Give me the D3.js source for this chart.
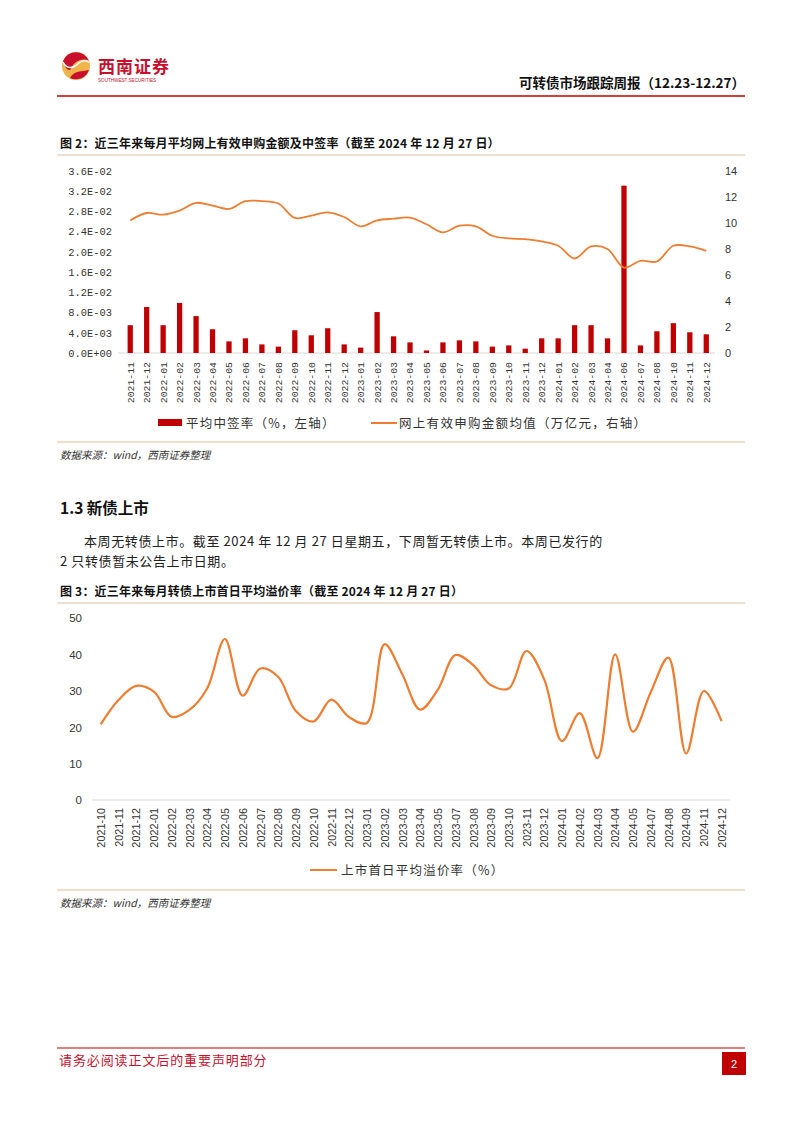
<!DOCTYPE html>
<html><head><meta charset="utf-8">
<script src="https://cdn.jsdelivr.net/npm/d3@7"></script>
<style>
html,body{margin:0;padding:0;background:#fff;}
svg{display:block;}
.cjk{font-family:"Noto Sans CJK SC","Noto Sans",sans-serif;}
</style></head>
<body>
<svg id="page" width="802" height="1133"></svg>
<script>
// ---------- DATA ----------
const months1 = ["2021-11","2021-12","2022-01","2022-02","2022-03","2022-04","2022-05","2022-06","2022-07","2022-08","2022-09","2022-10","2022-11","2022-12","2023-01","2023-02","2023-03","2023-04","2023-05","2023-06","2023-07","2023-08","2023-09","2023-10","2023-11","2023-12","2024-01","2024-02","2024-03","2024-04","2024-06","2024-07","2024-08","2024-10","2024-11","2024-12"];
const winRate = [5.5e-3,9.1e-3,5.5e-3,9.9e-3,7.3e-3,4.7e-3,2.3e-3,2.9e-3,1.7e-3,1.26e-3,4.5e-3,3.5e-3,4.9e-3,1.7e-3,1.06e-3,8.1e-3,3.3e-3,2.1e-3,0.5e-3,2.1e-3,2.5e-3,2.3e-3,1.26e-3,1.5e-3,0.86e-3,2.9e-3,2.9e-3,5.5e-3,5.5e-3,2.9e-3,33.1e-3,1.5e-3,4.3e-3,5.9e-3,4.1e-3,3.7e-3];
const subAmount = [10.2,10.77,10.64,10.95,11.55,11.34,11.08,11.68,11.68,11.5,10.39,10.57,10.82,10.46,9.74,10.2,10.33,10.41,9.9,9.28,9.79,9.74,9.02,8.81,8.76,8.58,8.25,7.27,8.2,8.0,6.57,7.09,7.04,8.25,8.2,7.86];
const leftTickValues = [0,0.004,0.008,0.012,0.016,0.020,0.024,0.028,0.032,0.036];
const leftTickLabels = ["0.0E+00","4.0E-03","8.0E-03","1.2E-02","1.6E-02","2.0E-02","2.4E-02","2.8E-02","3.2E-02","3.6E-02"];
const rightTickValues = [0,2,4,6,8,10,12,14];

const months2 = ["2021-10","2021-11","2021-12","2022-01","2022-02","2022-03","2022-04","2022-05","2022-06","2022-07","2022-08","2022-09","2022-10","2022-11","2022-12","2023-01","2023-02","2023-03","2023-04","2023-05","2023-07","2023-08","2023-09","2023-10","2023-11","2023-12","2024-01","2024-02","2024-03","2024-04","2024-05","2024-07","2024-08","2024-09","2024-11","2024-12"];
const premium = [20.8,27.5,31.4,29.8,22.9,24.8,30.7,44.3,28.7,36.2,33.9,24.5,21.6,27.6,22.8,21.2,42.9,34.6,24.9,30.3,39.9,37.1,31.6,30.7,41.0,33.2,16.2,23.9,11.5,40.1,18.8,29.6,39.2,12.8,30.0,21.7];
const premiumTicks = [0,10,20,30,40,50];

// ---------- PAGE ----------
const svg = d3.select("#page");
svg.append("rect").attr("width",802).attr("height",1133).attr("fill","#fff");
const RED = "#C00000", ORANGE = "#ED7D31", TAN = "#DDBE9C";

// header logo
const logo = svg.append("g").attr("transform","translate(76,66)");
logo.append("circle").attr("r",14).attr("fill","#F0B54A");
logo.append("path").attr("d","M-13,-5 A14,14 0 0 1 13,-5 C6,-9 -2,-4 -4,1 C-6,6 -10,5 -13,-5 Z").attr("fill","#C8102E");
logo.append("path").attr("d","M-6,12 C-2,4 6,6 13,4 A14,14 0 0 1 -6,12 Z").attr("fill","#C8102E");
logo.append("path").attr("d","M-13,-4 C-8,6 0,0 3,-3 C7,-7 11,-5 13,-4").attr("fill","none").attr("stroke","#fff").attr("stroke-width",1.6);
svg.append("text").attr("x",98).attr("y",73).attr("class","cjk").attr("font-size",17).attr("font-weight",700)
  .attr("fill","#C8102E").attr("letter-spacing",1).text("西南证券");
svg.append("text").attr("x",98).attr("y",82).attr("font-family","Liberation Sans").attr("font-size",4.6).attr("fill","#C8102E").text("SOUTHWEST SECURITIES");
svg.append("text").attr("x",745).attr("y",88).attr("text-anchor","end").attr("class","cjk").attr("font-size",13.5).attr("font-weight",700).attr("fill","#111").text("可转债市场跟踪周报（12.23-12.27）");
svg.append("line").attr("x1",57).attr("x2",745).attr("y1",96).attr("y2",96).attr("stroke",RED).attr("stroke-width",1.5);

// ---------- CHART 1 ----------
svg.append("text").attr("x",60).attr("y",148).attr("class","cjk").attr("font-size",12).attr("font-weight",700).attr("letter-spacing",0.2).attr("fill","#111")
  .text("图 2：近三年来每月平均网上有效申购金额及中签率（截至 2024 年 12 月 27 日）");
svg.append("line").attr("x1",57).attr("x2",745).attr("y1",155).attr("y2",155).attr("stroke",TAN).attr("stroke-width",1);

const x1 = d3.scaleBand().domain(months1).range([122,714.5]).paddingInner(0.68).paddingOuter(0.34);
const yL = d3.scaleLinear().domain([0,0.036]).range([353,171]);
const yR = d3.scaleLinear().domain([0,14]).range([353,171]);

const c1 = svg.append("g");
c1.append("line").attr("x1",118).attr("x2",715).attr("y1",yL(0)).attr("y2",yL(0)).attr("stroke","#d9d9d9").attr("stroke-width",1);

c1.selectAll("rect.bar").data(months1).join("rect").attr("class","bar")
  .attr("x",d=>x1(d)).attr("width",x1.bandwidth())
  .attr("y",(d,i)=>yL(winRate[i])).attr("height",(d,i)=>yL(0)-yL(winRate[i]))
  .attr("fill",RED);

const line1 = d3.line().x((d,i)=>x1(months1[i])+x1.bandwidth()/2).y(d=>yR(d)).curve(d3.curveCatmullRom.alpha(0.5));
c1.append("path").datum(subAmount).attr("d",line1).attr("fill","none").attr("stroke",ORANGE).attr("stroke-width",1.8);

const axL = c1.append("g").attr("transform","translate(118,0)")
  .call(d3.axisLeft(yL).tickValues(leftTickValues).tickFormat((d,i)=>leftTickLabels[i]).tickSize(0).tickPadding(6));
axL.select(".domain").remove();
axL.selectAll("text").attr("font-family","Liberation Mono").attr("font-size",10.4).attr("fill","#333");

const axR = c1.append("g").attr("transform","translate(719,0)")
  .call(d3.axisRight(yR).tickValues(rightTickValues).tickSize(0).tickPadding(6));
axR.select(".domain").remove();
axR.selectAll("text").attr("font-family","Liberation Sans").attr("font-size",11).attr("fill","#333");

const axX1 = c1.append("g").attr("transform",`translate(0,${yL(0)})`)
  .call(d3.axisBottom(x1).tickSize(0));
axX1.select(".domain").remove();
axX1.selectAll("text").attr("transform","rotate(-90)").attr("text-anchor","end")
  .attr("x",-9).attr("y",0).attr("dy","0.35em")
  .attr("font-family","Liberation Mono").attr("font-size",9.8).attr("fill","#333");

// legend 1
svg.append("rect").attr("x",158).attr("y",419).attr("width",24).attr("height",7).attr("fill",RED);
svg.append("text").attr("x",186).attr("y",427.5).attr("class","cjk").attr("font-size",12.5).attr("letter-spacing",1.2).attr("fill","#333").text("平均中签率（%，左轴）");
svg.append("line").attr("x1",371).attr("x2",397).attr("y1",423).attr("y2",423).attr("stroke",ORANGE).attr("stroke-width",2);
svg.append("text").attr("x",399).attr("y",427.5).attr("class","cjk").attr("font-size",12.5).attr("letter-spacing",1.3).attr("fill","#333").text("网上有效申购金额均值（万亿元，右轴）");
svg.append("line").attr("x1",57).attr("x2",745).attr("y1",442).attr("y2",442).attr("stroke",TAN).attr("stroke-width",1);
svg.append("text").attr("x",60).attr("y",459).attr("class","cjk").attr("font-size",10.5).attr("font-style","italic").attr("fill","#333").text("数据来源：wind，西南证券整理");

// ---------- SECTION TEXT ----------
svg.append("text").attr("x",60).attr("y",514).attr("class","cjk").attr("font-size",15.5).attr("font-weight",700).attr("fill","#111").text("1.3 新债上市");
svg.append("text").attr("x",84).attr("y",546).attr("class","cjk").attr("font-size",13).attr("letter-spacing",0.6).attr("fill","#222").text("本周无转债上市。截至 2024 年 12 月 27 日星期五，下周暂无转债上市。本周已发行的");
svg.append("text").attr("x",60).attr("y",566).attr("class","cjk").attr("font-size",13).attr("letter-spacing",0.6).attr("fill","#222").text("2 只转债暂未公告上市日期。");

// ---------- CHART 2 ----------
svg.append("text").attr("x",60).attr("y",596).attr("class","cjk").attr("font-size",12).attr("font-weight",700).attr("letter-spacing",0.2).attr("fill","#111")
  .text("图 3：近三年来每月转债上市首日平均溢价率（截至 2024 年 12 月 27 日）");
svg.append("line").attr("x1",57).attr("x2",745).attr("y1",603).attr("y2",603).attr("stroke",TAN).attr("stroke-width",1);

const x2 = d3.scalePoint().domain(months2).range([100.7,721.6]);
const y2 = d3.scaleLinear().domain([0,50]).range([800,618.3]);
const c2 = svg.append("g");
c2.append("line").attr("x1",92).attr("x2",730).attr("y1",y2(0)).attr("y2",y2(0)).attr("stroke","#d9d9d9").attr("stroke-width",1.2);

const line2 = d3.line().x((d,i)=>x2(months2[i])).y(d=>y2(d)).curve(d3.curveCatmullRom.alpha(0.5));
c2.append("path").datum(premium).attr("d",line2).attr("fill","none").attr("stroke",ORANGE).attr("stroke-width",2.2);

const axY2 = c2.append("g").attr("transform","translate(88,0)")
  .call(d3.axisLeft(y2).tickValues(premiumTicks).tickSize(0).tickPadding(6));
axY2.select(".domain").remove();
axY2.selectAll("text").attr("font-family","Liberation Sans").attr("font-size",11.5).attr("fill","#333");

const axX2 = c2.append("g").attr("transform",`translate(0,${y2(0)})`)
  .call(d3.axisBottom(x2).tickSize(0));
axX2.select(".domain").remove();
axX2.selectAll("text").attr("transform","rotate(-90)").attr("text-anchor","end")
  .attr("x",-8).attr("y",0).attr("dy","0.35em")
  .attr("font-family","Liberation Sans").attr("font-size",10.8).attr("fill","#333");

// legend 2
svg.append("line").attr("x1",310).attr("x2",337).attr("y1",870).attr("y2",870).attr("stroke",ORANGE).attr("stroke-width",2);
svg.append("text").attr("x",341).attr("y",874.5).attr("class","cjk").attr("font-size",12.5).attr("letter-spacing",1.2).attr("fill","#333").text("上市首日平均溢价率（%）");
svg.append("line").attr("x1",57).attr("x2",745).attr("y1",890).attr("y2",890).attr("stroke",TAN).attr("stroke-width",1);
svg.append("text").attr("x",60).attr("y",907).attr("class","cjk").attr("font-size",10.5).attr("font-style","italic").attr("fill","#333").text("数据来源：wind，西南证券整理");

// ---------- FOOTER ----------
svg.append("line").attr("x1",57).attr("x2",745).attr("y1",1048).attr("y2",1048).attr("stroke",RED).attr("stroke-width",1.2);
svg.append("text").attr("x",59).attr("y",1065).attr("class","cjk").attr("font-size",13).attr("letter-spacing",0.9).attr("fill","#C8102E").text("请务必阅读正文后的重要声明部分");
svg.append("rect").attr("x",722).attr("y",1052).attr("width",24).attr("height",23).attr("fill","#C00000");
svg.append("text").attr("x",734).attr("y",1068).attr("text-anchor","middle").attr("font-family","Liberation Sans").attr("font-size",11).attr("fill","#fff").text("2");
</script>
</body></html>
